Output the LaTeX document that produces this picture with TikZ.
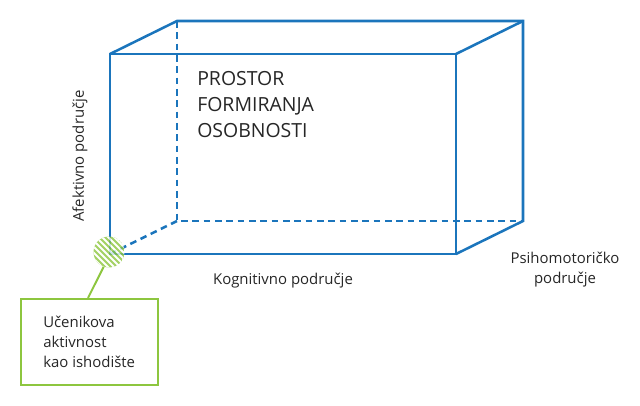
\documentclass[tikz,border=0pt]{standalone}
\usepackage{fontspec}
\setmainfont{Open Sans}
\usetikzlibrary{calc}
\definecolor{cubeblue}{HTML}{1B75BC}
\definecolor{actgreen}{HTML}{8DC63F}
\begin{document}
\begin{tikzpicture}[x=0.75pt,y=-0.75pt,
  edge/.style={draw=cubeblue,line width=1.9pt},
  hidden/.style={draw=cubeblue,line width=1.9pt,dash pattern=on 5pt off 3.5pt},
  lbl/.style={font=\fontsize{11.2pt}{15pt}\selectfont,text=black!85,inner sep=0pt},
  big/.style={font=\fontsize{14.6pt}{19.5pt}\selectfont,text=black!85,inner sep=0pt,align=left}]
\useasboundingbox (0,0) rectangle (640,406);
% corners
\coordinate (fa) at (110,54);  \coordinate (fb) at (456,54);
\coordinate (fc) at (456,254); \coordinate (fd) at (110,254);
\coordinate (ba) at (177,21);  \coordinate (bb) at (523,21);
\coordinate (bc) at (523,221); \coordinate (bd) at (177,221);
% hidden edges
\draw[hidden] (ba) -- (bd) -- (bc);
\draw[hidden] (bd) -- (fd);
% visible edges
\draw[edge,line join=miter] (fa) -- (ba) -- (bb) -- (bc) -- (fc);
\draw[edge] (fb) -- (bb);
\draw[edge] (fa) rectangle (fc);
% green origin circle
\coordinate (oc) at (109,252);
\begin{scope}[transparency group,opacity=0.8]
  \clip (oc) circle (15.5);
  \fill[actgreen] (oc) circle (15.5);
  \foreach \i in {-40,-34,...,40}
    \draw[white,line width=1.5pt] ($(oc)+(\i-25,-25)$) -- ($(oc)+(\i+25,25)$);
\end{scope}
\node[circle,minimum size=31*0.75pt,inner sep=0pt] (orig) at (oc) {};
% box
\node[draw=actgreen,line width=1.5pt,minimum width=137*0.75pt,minimum height=86*0.75pt,inner sep=0pt] (box) at (89.5,342) {};
\node[lbl,anchor=north west,align=left,font=\fontsize{11.2pt}{15pt}\selectfont] (boxt) at (43,316) {Učenikova\\aktivnost\\kao ishodište};
\draw[actgreen,line width=1.5pt] (orig.250) -- (box.north -| 88,0);
% labels
\node[big,anchor=north west] (title) at (197,71) {PROSTOR\\FORMIRANJA\\OSOBNOSTI};
\node[lbl,rotate=90] (afek) at (80,156) {Afektivno područje};
\node[lbl] (kog) at (283,281) {Kognitivno područje};
\node[lbl,align=center] (psi) at (565,270) {Psihomotoričko\\područje};
\end{tikzpicture}
\end{document}
